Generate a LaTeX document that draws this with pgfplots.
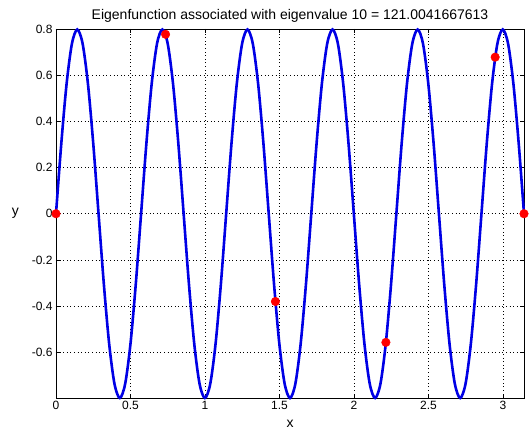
\documentclass[border=0pt]{standalone}
\usepackage{pgfplots}
\pgfplotsset{compat=1.18}
\usepackage{fontspec}
\setmainfont{Liberation Sans}

\pgfplotstableread{
x y
0.0000 0
0.0357 0.3053
0.0714 0.5642
0.1071 0.7371
0.1428 0.7979
0.1785 0.7371
0.2142 0.5642
0.2499 0.3053
0.2856 0
0.3213 -0.3053
0.3570 -0.5642
0.3927 -0.7371
0.4284 -0.7979
0.4641 -0.7371
0.4998 -0.5642
0.5355 -0.3053
0.5712 0
0.6069 0.3053
0.6426 0.5642
0.6783 0.7371
0.7140 0.7979
0.7497 0.7371
0.7854 0.5642
0.8211 0.3053
0.8568 0
0.8925 -0.3053
0.9282 -0.5642
0.9639 -0.7371
0.9996 -0.7979
1.0353 -0.7371
1.0710 -0.5642
1.1067 -0.3053
1.1424 0
1.1781 0.3053
1.2138 0.5642
1.2495 0.7371
1.2852 0.7979
1.3209 0.7371
1.3566 0.5642
1.3923 0.3053
1.4280 0
1.4637 -0.3053
1.4994 -0.5642
1.5351 -0.7371
1.5708 -0.7979
1.6065 -0.7371
1.6422 -0.5642
1.6779 -0.3053
1.7136 0
1.7493 0.3053
1.7850 0.5642
1.8207 0.7371
1.8564 0.7979
1.8921 0.7371
1.9278 0.5642
1.9635 0.3053
1.9992 0
2.0349 -0.3053
2.0706 -0.5642
2.1063 -0.7371
2.1420 -0.7979
2.1777 -0.7371
2.2134 -0.5642
2.2491 -0.3053
2.2848 0
2.3205 0.3053
2.3562 0.5642
2.3919 0.7371
2.4276 0.7979
2.4633 0.7371
2.4990 0.5642
2.5347 0.3053
2.5704 0
2.6061 -0.3053
2.6418 -0.5642
2.6775 -0.7371
2.7132 -0.7979
2.7489 -0.7371
2.7846 -0.5642
2.8203 -0.3053
2.8560 0
2.8917 0.3053
2.9274 0.5642
2.9631 0.7371
2.9988 0.7979
3.0345 0.7371
3.0702 0.5642
3.1059 0.3053
3.1416 0
}\eigfun

\pgfplotstableread{
x y
0.0000 0
0.7354 0.777
1.4730 -0.380
2.2145 -0.557
2.9480 0.678
3.1416 0
}\nodes

\begin{document}
\begin{tikzpicture}
\begin{axis}[
    scale only axis,
    width=468pt, height=369pt,
    xmin=0, xmax=3.1416,
    ymin=-0.7979, ymax=0.8,
    xtick={0,0.5,1,1.5,2,2.5,3},
    xticklabels={0,0.5,1,1.5,2,2.5,3},
    ytick={-0.6,-0.4,-0.2,0,0.2,0.4,0.6,0.8},
    yticklabels={-0.6,-0.4,-0.2,0,0.2,0.4,0.6,0.8},
    tick align=inside,
    major tick length=4pt,
    tick style={black, line width=0.6pt},
    axis line style={black, line width=0.8pt},
    grid=major,
    major grid style={black, line width=0.7pt, dash pattern=on 0.8pt off 2.8pt},
    tick label style={font=\fontsize{12}{14}\selectfont},
    title={Eigenfunction associated with eigenvalue 10 = 121.0041667613},
    title style={font=\fontsize{14}{16}\selectfont, yshift=-3pt},
    xlabel={x},
    ylabel={y},
    label style={font=\fontsize{14}{16}\selectfont},
    xlabel style={yshift=-3pt},
    ylabel style={rotate=-90, xshift=-6pt},
    clip=false,
]
\addplot[blue!90!black, line width=2.6pt, smooth] table {\eigfun};
\addplot[only marks, mark=*, mark size=4.3pt, color=red] table {\nodes};
\end{axis}
\pgfresetboundingbox
\path ([xshift=-56pt,yshift=-36pt]current axis.south west) rectangle ([xshift=5pt,yshift=29pt]current axis.north east);
\end{tikzpicture}
\end{document}
